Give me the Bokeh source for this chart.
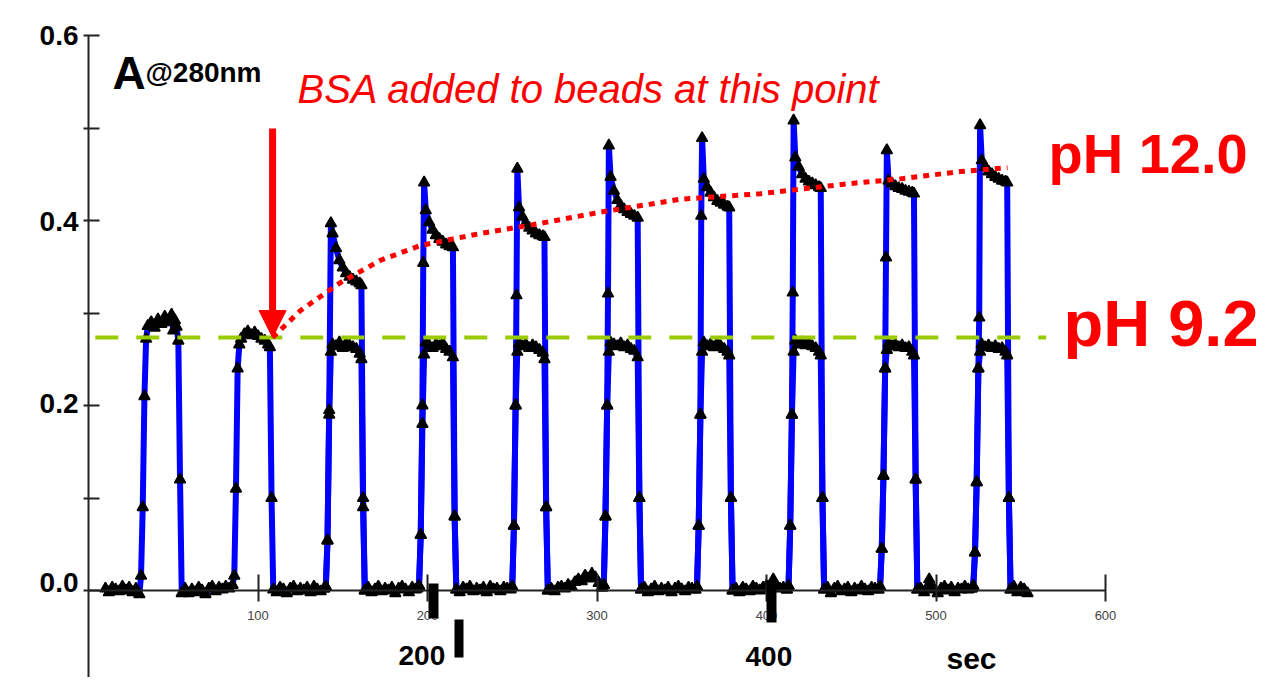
from bokeh.plotting import figure
from bokeh.models import Range1d, LinearAxis, FixedTicker, Label, Arrow, NormalHead, BoxAnnotation
from bokeh.embed import file_html
from bokeh.resources import INLINE

nan = float("nan")

# ---------------- data ----------------
# pH 9.2 trace (all ten pulses)
time_a = [
    10, 12, 14, 16, 18, 20, 22, 24, 26, 28, 30,
    31, 32, 33, 34, 35, 37, 39, 41, 43, 45, 47, 49, 50, 51, 52, 53, 54, 55,
    57, 59, 61, 63, 65, 67, 69, 71, 73, 75, 77, 79, 81, 83, 85,
    86, 87, 88, 89, 90, 92, 94, 96, 98, 100, 102, 104, 106, 107, 108, 109,
    111, 113, 115, 117, 119, 121, 123, 125, 127, 129, 131, 133, 135, 137, 139,
    140, 141, 142, 143, 144, 146, 148, 150, 152, 154, 156, 158, 160, 161, 162, 163,
    165, 167, 169, 171, 173, 175, 177, 179, 181, 183, 185, 187, 189, 191, 193,
    195, 196, 197, 198, 199, 201, 203, 205, 207, 209, 211, 213, 215, 216, 217,
    219, 221, 223, 225, 227, 229, 231, 233, 235, 237, 239, 241, 243, 245, 247, 249,
    250, 251, 252, 253, 254, 256, 258, 260, 262, 264, 266, 268, 269, 270, 271,
    273, 275, 277, 279, 281, 283, 285, 287, 289, 291, 293, 295, 297, 299, 301, 303,
    304, 305, 306, 307, 308, 310, 312, 314, 316, 318, 320, 322, 324, 325, 326,
    328, 330, 332, 334, 336, 338, 340, 342, 344, 346, 348, 350, 352, 354, 356, 358,
    359, 360, 361, 362, 363, 365, 367, 369, 371, 373, 375, 377, 378, 379, 380,
    382, 384, 386, 388, 390, 392, 394, 396, 398, 400, 402, 404, 406, 408, 410, 412,
    413, 414, 415, 416, 417, 419, 421, 423, 425, 427, 429, 431, 432, 433, 434,
    436, 438, 440, 442, 444, 446, 448, 450, 452, 454, 456, 458, 460, 462, 464, 466,
    467, 468, 469, 470, 471, 472, 474, 476, 478, 480, 482, 484, 486, 487, 488, 489,
    491, 493, 495, 496, 497, 499, 501, 503, 505, 507, 509, 511, 513, 515, 517, 519, 521,
    522, 523, 524, 525, 526, 527, 529, 531, 533, 535, 537, 539, 541, 542, 543, 544,
    546, 548, 550, 552, 554,
]
abs_a = [
    0.002, -0.002, 0.003, 0.001, -0.001, 0.004, 0.000, 0.003, -0.002, 0.002, -0.004,
    0.016, 0.09, 0.21, 0.272, 0.286, 0.29, 0.284, 0.293, 0.288, 0.296, 0.29, 0.298, 0.281, 0.292, 0.285, 0.27, 0.12, -0.003,
    0.002, -0.003, 0.001, -0.002, 0.003, 0.000, -0.004, 0.002, 0.004, -0.001, 0.003, 0.001, 0.004, 0.002, 0.006,
    0.016, 0.11, 0.24, 0.266, 0.272, 0.277, 0.28, 0.276, 0.279, 0.275, 0.272, 0.27, 0.266, 0.263, 0.1, 0.001,
    -0.002, 0.003, 0.001, -0.003, 0.002, 0.004, -0.001, 0.002, 0.000, 0.003, -0.002, 0.004, 0.001, -0.001, 0.002,
    0.004, 0.054, 0.19, 0.258, 0.266, 0.264, 0.268, 0.262, 0.267, 0.265, 0.263, 0.261, 0.256, 0.25, 0.09, 0.0,
    0.003, -0.002, 0.001, 0.004, -0.001, 0.002, 0.000, 0.003, -0.003, 0.002, 0.004, 0.001, -0.002, 0.003, 0.001,
    0.005, 0.06, 0.18, 0.255, 0.268, 0.265, 0.262, 0.266, 0.264, 0.267, 0.261, 0.258, 0.252, 0.08, 0.001,
    -0.002, 0.003, 0.001, 0.004, -0.001, 0.002, 0.000, 0.003, -0.002, 0.004, 0.001, 0.002, -0.001, 0.003, 0.002, 0.001,
    0.004, 0.07, 0.2, 0.258, 0.267, 0.264, 0.266, 0.262, 0.265, 0.263, 0.26, 0.257, 0.25, 0.09, 0.0,
    0.002, -0.001, 0.003, 0.004, 0.002, 0.006, 0.004, 0.009, 0.012, 0.01, 0.016, 0.013, 0.018, 0.014, 0.008, 0.004,
    0.006, 0.08, 0.2, 0.258, 0.268, 0.266, 0.264, 0.267, 0.263, 0.265, 0.261, 0.259, 0.252, 0.1, 0.001,
    0.003, -0.002, 0.001, 0.004, -0.001, 0.002, 0.000, 0.003, -0.002, 0.002, 0.004, 0.001, -0.001, 0.003, 0.002, 0.001,
    0.004, 0.07, 0.19, 0.258, 0.268, 0.264, 0.266, 0.263, 0.267, 0.264, 0.261, 0.258, 0.254, 0.1, 0.0,
    0.002, -0.002, 0.003, 0.001, -0.001, 0.004, 0.002, 0.000, 0.003, 0.005, 0.002, 0.012, 0.004, 0.002, 0.003, 0.001,
    0.005, 0.07, 0.19, 0.258, 0.27, 0.266, 0.268, 0.265, 0.267, 0.264, 0.262, 0.258, 0.254, 0.1, 0.001,
    0.003, -0.003, 0.002, 0.004, -0.001, 0.001, 0.003, -0.002, 0.002, 0.000, 0.004, 0.001, -0.001, 0.003, 0.002, 0.001,
    0.004, 0.045, 0.124, 0.24, 0.26, 0.267, 0.264, 0.266, 0.263, 0.265, 0.262, 0.263, 0.258, 0.254, 0.12, 0.001,
    0.002, -0.002, 0.004, 0.012, 0.003, 0.001, -0.003, 0.002, 0.004, 0.000, 0.003, -0.002, 0.002, 0.001, 0.004, 0.001, 0.002,
    0.005, 0.041, 0.117, 0.24, 0.258, 0.266, 0.263, 0.265, 0.262, 0.264, 0.261, 0.262, 0.258, 0.254, 0.1, 0.001,
    0.004, -0.002, 0.003, 0.001, -0.003,
]

# pH 12.0 pulses after BSA loading (pulses 3-10), nan separates pulses
time_b = [
    139, 140, 141, 142, 143, 144, 146, 148, 150, 152, 154, 156, 158, 160, 161, 162, 163, nan,
    194, 195, 196, 197, 197.5, 198, 199, 201, 203, 205, 207, 209, 211, 213, 215, 216, 217, nan,
    249, 250, 251, 252, 252.5, 253, 254, 256, 258, 260, 262, 264, 266, 268, 269, 270, 271, nan,
    303, 304, 305, 306, 306.5, 307, 308, 310, 312, 314, 316, 318, 320, 322, 324, 325, 326, nan,
    358, 359, 360, 361, 361.5, 362, 363, 365, 367, 369, 371, 373, 375, 377, 378, 379, 380, nan,
    412, 413, 414, 415, 415.5, 416, 417, 419, 421, 423, 425, 427, 429, 431, 432, 433, 434, nan,
    466, 467, 468, 469, 470, 470.5, 471, 472, 474, 476, 478, 480, 482, 484, 486, 487, 488, 489, nan,
    521, 522, 523, 524, 525, 525.5, 526, 527, 529, 531, 533, 535, 537, 539, 541, 542, 543, 544,
]
abs_b = [
    0.002, 0.004, 0.054, 0.195, 0.397, 0.386, 0.37, 0.357, 0.349, 0.343, 0.339, 0.336, 0.334, 0.332, 0.33, 0.1, 0.0, nan,
    0.002, 0.005, 0.06, 0.2, 0.354, 0.441, 0.411, 0.398, 0.39, 0.384, 0.38, 0.377, 0.374, 0.372, 0.371, 0.08, 0.001, nan,
    0.002, 0.004, 0.07, 0.2, 0.319, 0.456, 0.414, 0.404, 0.397, 0.392, 0.389, 0.386, 0.384, 0.383, 0.382, 0.09, 0.0, nan,
    0.003, 0.006, 0.08, 0.2, 0.321, 0.481, 0.447, 0.432, 0.422, 0.416, 0.412, 0.409, 0.407, 0.405, 0.403, 0.1, 0.001, nan,
    0.001, 0.004, 0.07, 0.19, 0.405, 0.489, 0.445, 0.436, 0.43, 0.425, 0.421, 0.419, 0.417, 0.415, 0.414, 0.1, 0.0, nan,
    0.001, 0.005, 0.07, 0.19, 0.322, 0.508, 0.468, 0.458, 0.45, 0.445, 0.442, 0.44, 0.438, 0.436, 0.435, 0.1, 0.001, nan,
    0.001, 0.004, 0.045, 0.124, 0.24, 0.36, 0.476, 0.443, 0.44, 0.437, 0.435, 0.434, 0.432, 0.431, 0.43, 0.429, 0.12, 0.001, nan,
    0.002, 0.005, 0.041, 0.117, 0.24, 0.295, 0.503, 0.465, 0.458, 0.453, 0.45, 0.447, 0.445, 0.443, 0.442, 0.441, 0.1, 0.001,
]

# dotted trend of the pH 12.0 plateau level
fit_t = [108.6, 125.1, 148.7, 172.3, 195.9, 231.3, 260.8, 302.1, 349.3, 396.5, 449.6, 479.1, 514.5, 542.2]
fit_a = [0.2735, 0.3027, 0.333, 0.357, 0.373, 0.386, 0.395, 0.409, 0.423, 0.429, 0.440, 0.445, 0.453, 0.457]

ph92_level = 0.2735
ph92_span = [4.0, 565.0]
bsa_time = 108.6
bsa_arrow_top = 0.4995

x_ticks = [100, 200, 300, 400, 500, 600]
y_ticks = [-0.1, 0.0, 0.1, 0.2, 0.3, 0.4, 0.5, 0.6]
y_label_values = [0.0, 0.2, 0.4, 0.6]
y_label_texts = ["0.0", "0.2", "0.4", "0.6"]

# ---------------- layout helpers (page pixel -> data) ----------------
W, H = 1261, 677
PX0, PXS = 88.0, 1.695     # page x of t=0, pixels per second
PY0, PYS = 590.0, 925.0    # page y of A=0, pixels per absorbance unit


def sx(px):
    return (px - PX0) / PXS


def sy(py):
    return (PY0 - py) / PYS


FONT = "Liberation Sans"

p = figure(width=W, height=H,
           x_range=Range1d(sx(0), sx(W)), y_range=Range1d(sy(H), sy(0)),
           x_axis_type=None, y_axis_type=None,
           toolbar_location=None, output_backend="svg",
           min_border=0, outline_line_color=None)
p.background_fill_color = "white"
p.border_fill_color = "white"

# axes crossing at origin
xax = LinearAxis(fixed_location=0, bounds=(0, 600), ticker=FixedTicker(ticks=x_ticks),
                 axis_line_color="#222222", axis_line_width=2,
                 major_tick_line_color="#222222", major_tick_line_width=2,
                 major_tick_in=16, major_tick_out=11, minor_tick_line_color=None,
                 major_label_text_font=FONT,
                 major_label_text_font_size="13px", major_label_text_color="#444444",
                 major_label_standoff=9)
p.add_layout(xax, "below")

yax = LinearAxis(fixed_location=0, bounds=(-0.1, 0.6), ticker=FixedTicker(ticks=y_ticks),
                 axis_line_color="#222222", axis_line_width=2,
                 major_tick_line_color="#222222", major_tick_line_width=2,
                 major_tick_in=11, major_tick_out=5, minor_tick_line_color=None,
                 major_label_overrides={v: "" for v in y_ticks})
p.add_layout(yax, "left")

# traces
for t, a in ((time_a, abs_a), (time_b, abs_b)):
    p.line(t, a, line_color="#0000FF", line_width=6, line_join="round")
for t, a in ((time_a, abs_a), (time_b, abs_b)):
    p.scatter(t, a, marker="triangle", size=11, fill_color="#000000",
              line_color="black", line_width=1.5)

# pH 9.2 reference level
p.line(ph92_span, [ph92_level, ph92_level], line_color="#99CC00", line_width=4, line_dash="23 18")
# trend of pH 12.0 plateau
p.line(fit_t, fit_a, line_color="#FF0000", line_width=5, line_dash="6 6")

# BSA arrow
p.add_layout(Arrow(end=NormalHead(size=27, fill_color="#FF0000", line_color="#FF0000", line_width=1),
                   x_start=bsa_time, y_start=bsa_arrow_top, x_end=bsa_time, y_end=ph92_level,
                   line_color="#FF0000", line_width=7))

# y tick labels (sitting just above their ticks)
for v, s, off in zip(y_label_values, y_label_texts, [8, 2, -1, 0]):
    p.add_layout(Label(x=sx(78), y=v, y_offset=off, text=s, text_font=FONT,
                       text_font_size="28px", text_font_style="bold", text_color="black",
                       text_align="right", text_baseline="alphabetic"))


def lab(px, py, text, size, color="black", style="bold"):
    p.add_layout(Label(x=sx(px), y=sy(py), text=text, text_font=FONT,
                       text_font_size=size, text_font_style=style, text_color=color,
                       text_align="left", text_baseline="alphabetic"))


lab(112, 72, "A", "46px")
lab(145, 72, "@280nm", "28px")
lab(297, 88, "BSA added to beads at this point", "40px", "#FF0000", "italic")
lab(1048, 153, "pH 12.0", "56px", "#FF0000")
lab(1063, 323, "pH 9.2", "65px", "#FF0000")
lab(398, 655, "200", "28px")
lab(745, 656, "400", "28px")
lab(946, 658, "sec", "30px")

# cursor bars on the time axis
for l, r, t, b in ((428, 438, 583, 618), (454, 463, 619, 657), (766, 776, 580, 622)):
    p.add_layout(BoxAnnotation(left=sx(l), right=sx(r), top=sy(t), bottom=sy(b),
                               fill_color="black", fill_alpha=1.0, line_color=None))

open("out.html", "w").write(file_html(p, INLINE))
